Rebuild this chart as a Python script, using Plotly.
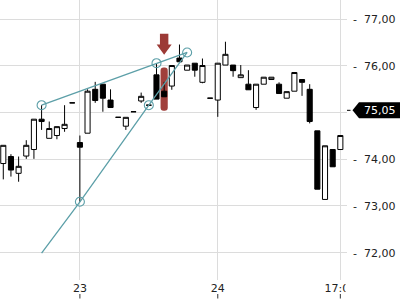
import plotly.graph_objects as go

# ---------------- data ----------------
candle_idx = list(range(45))
opens = [73.91, 74.06, 73.70, 74.07, 74.21, 74.86, 74.45, 74.51, 74.66, 75.21,
         74.36, 74.56, 75.50, 75.61, 75.27, 74.90, 74.71, 75.02, 75.25, 75.16,
         75.81, 75.46, 75.57, 76.17, 75.91, 76.06, 75.65, 75.31, 75.27, 76.02,
         76.02, 75.75, 75.61, 75.11, 75.61, 75.71, 75.61, 75.31, 75.46, 75.71,
         75.50, 74.61, 73.14, 74.21, 74.21]
highs = [74.30, 74.11, 74.06, 74.41, 74.86, 75.16, 74.81, 74.70, 75.16, 75.21,
         74.51, 75.50, 75.66, 75.61, 75.50, 74.90, 74.90, 75.02, 75.43, 75.16,
         76.06, 75.66, 76.01, 76.46, 76.02, 76.06, 76.16, 75.31, 76.06, 76.52,
         76.02, 76.02, 75.91, 75.61, 75.76, 75.76, 75.65, 75.45, 75.86, 75.71,
         75.61, 74.61, 74.29, 74.21, 74.51]
lows = [73.57, 73.63, 73.52, 74.01, 74.01, 74.63, 74.45, 74.43, 74.59, 75.21,
        73.09, 74.56, 75.21, 75.02, 75.11, 74.90, 74.63, 75.02, 75.21, 75.16,
        75.29, 75.34, 75.49, 76.09, 75.91, 75.77, 75.63, 75.31, 74.91, 76.02,
        75.77, 75.75, 75.49, 75.06, 75.61, 75.71, 75.41, 75.31, 75.46, 75.36,
        74.77, 73.36, 73.14, 73.84, 74.21]
closes = [74.30, 73.77, 73.85, 74.30, 74.86, 74.81, 74.66, 74.70, 74.75, 75.21,
          74.26, 75.46, 75.26, 75.31, 75.11, 74.90, 74.90, 75.02, 75.35, 75.16,
          75.29, 75.34, 76.01, 76.09, 76.02, 75.91, 76.01, 75.31, 76.06, 76.25,
          75.90, 75.81, 75.49, 75.61, 75.76, 75.76, 75.41, 75.45, 75.86, 75.65,
          74.81, 73.36, 74.29, 73.84, 74.51]

x_tick_vals = [10, 28, 44]
x_tick_text = ["23", "24", "17:00"]
y_tick_vals = [72, 73, 74, 75, 76, 77]
y_tick_text = ["72,00", "73,00", "74,00", "", "76,00", "77,00"]  # 75,00 hidden by price label

line1_x = [5, 20, 24]
line1_y = [75.16, 76.06, 76.29]
line2_x = [5, 10, 19, 24]
line2_y = [71.99, 73.09, 75.16, 76.29]
anchor_x = [5, 20, 24, 10, 19]
anchor_y = [75.16, 76.06, 76.29, 73.09, 75.16]

highlight_idx = 21
highlight_lo, highlight_hi = 75.04, 75.97
arrow_top, arrow_neck, arrow_tip = 76.69, 76.46, 76.24
last_price = 75.05
last_price_text = "75,05"

# ---------------- geometry ----------------
W, H = 400, 300
ML, MR, MT, MB = 0, 53, 0, 20
PW, PH = W - ML - MR, H - MT - MB
X_RANGE = [-0.43, 44.87]
Y_RANGE = [71.414, 77.414]

def px_x(i):
    return ML + (i - X_RANGE[0]) / (X_RANGE[1] - X_RANGE[0]) * PW

def paper_x(px):
    return (px - ML) / PW

def paper_y(py):
    return 1 - (py - MT) / PH

def price_py(p):
    return MT + (Y_RANGE[1] - p) / (Y_RANGE[1] - Y_RANGE[0]) * PH

TEAL = "#5c9fa8"
RED = "#9c3a36"
FONT = "DejaVu Sans"

fig = go.Figure()
fig.add_trace(go.Candlestick(
    x=candle_idx, open=opens, high=highs, low=lows, close=closes,
    increasing=dict(line=dict(color="black", width=1), fillcolor="white"),
    decreasing=dict(line=dict(color="black", width=1), fillcolor="black"),
    whiskerwidth=0, hoverinfo="skip"))
fig.add_trace(go.Scatter(x=line1_x, y=line1_y, mode="lines",
                         line=dict(color=TEAL, width=1.3), hoverinfo="skip"))
fig.add_trace(go.Scatter(x=line2_x, y=line2_y, mode="lines",
                         line=dict(color=TEAL, width=1.3), hoverinfo="skip"))
fig.add_trace(go.Scatter(x=anchor_x, y=anchor_y, mode="markers",
                         marker=dict(symbol="circle-open", size=9,
                                     color=TEAL, line=dict(width=1.1)),
                         hoverinfo="skip"))

shapes = []
# highlight bar (rounded) behind candle
hx0, hx1 = highlight_idx - 0.47, highlight_idx + 0.47
rx, ry = 0.4, 0.07
bar_path = (f"M {hx0+rx} {highlight_lo} L {hx1-rx} {highlight_lo} "
            f"Q {hx1} {highlight_lo} {hx1} {highlight_lo+ry} "
            f"L {hx1} {highlight_hi-ry} Q {hx1} {highlight_hi} {hx1-rx} {highlight_hi} "
            f"L {hx0+rx} {highlight_hi} Q {hx0} {highlight_hi} {hx0} {highlight_hi-ry} "
            f"L {hx0} {highlight_lo+ry} Q {hx0} {highlight_lo} {hx0+rx} {highlight_lo} Z")
shapes.append(dict(type="path", path=bar_path, xref="x", yref="y",
                   fillcolor="rgba(150,42,38,0.9)", line=dict(width=0), layer="below"))
# arrow above
sw, hw = 0.55, 0.98
arrow_path = (f"M {highlight_idx-sw} {arrow_top} L {highlight_idx+sw} {arrow_top} "
              f"L {highlight_idx+sw} {arrow_neck} L {highlight_idx+hw} {arrow_neck} "
              f"L {highlight_idx} {arrow_tip} L {highlight_idx-hw} {arrow_neck} "
              f"L {highlight_idx-sw} {arrow_neck} Z")
shapes.append(dict(type="path", path=arrow_path, xref="x", yref="y",
                   fillcolor=RED, line=dict(width=0), layer="above"))

# cover to clip the last x label
shapes.append(dict(type="rect", xref="paper", yref="paper",
                   x0=paper_x(345.5), x1=paper_x(W + 5), y0=paper_y(H + 5), y1=paper_y(PH + MT + 1),
                   fillcolor="white", line=dict(width=0), layer="above"))
# x tick marks below labels
for v in x_tick_vals:
    xp = paper_x(px_x(v))
    shapes.append(dict(type="line", xref="paper", yref="paper",
                       x0=xp, x1=xp, y0=paper_y(294), y1=paper_y(298.5),
                       line=dict(color="#333", width=1)))

# last price label
ly = price_py(last_price)
shapes.append(dict(type="line", xref="paper", yref="paper",
                   x0=paper_x(347), x1=paper_x(350.5), y0=paper_y(ly), y1=paper_y(ly),
                   line=dict(color="black", width=1)))
lbl = (f"M {paper_x(352.5)} {paper_y(ly)} L {paper_x(359)} {paper_y(ly-8)} "
       f"L {paper_x(401)} {paper_y(ly-8)} L {paper_x(401)} {paper_y(ly+8)} "
       f"L {paper_x(359)} {paper_y(ly+8)} Z")
shapes.append(dict(type="path", path=lbl, xref="paper", yref="paper",
                   fillcolor="black", line=dict(width=0)))

fig.update_layout(
    width=W, height=H, margin=dict(l=ML, r=MR, t=MT, b=MB),
    paper_bgcolor="white", plot_bgcolor="white", showlegend=False,
    font=dict(family=FONT, size=11, color="#222"),
    boxgap=0.3, boxgroupgap=0.05,
    shapes=shapes,
    annotations=[dict(xref="paper", yref="paper", x=paper_x(379.5), y=paper_y(ly),
                      text=last_price_text, showarrow=False,
                      font=dict(family=FONT, size=11, color="white"),
                      xanchor="center", yanchor="middle")],
    xaxis=dict(range=X_RANGE, tickvals=x_tick_vals, ticktext=x_tick_text,
               showgrid=True, gridcolor="#dcdcdc", gridwidth=1, zeroline=False,
               showline=False, ticks="", rangeslider=dict(visible=False),
               tickfont=dict(size=11, color="#222")),
    yaxis=dict(range=Y_RANGE, side="right", tickvals=y_tick_vals,
               ticktext=[("-\u00a0\u00a0" + t) if t else "" for t in y_tick_text],
               ticklabelstandoff=5,
               showgrid=True, gridcolor="#dcdcdc", gridwidth=1, zeroline=False,
               showline=False, ticks="", tickfont=dict(size=11, color="#222")),
)

fig.write_html("out.html")
